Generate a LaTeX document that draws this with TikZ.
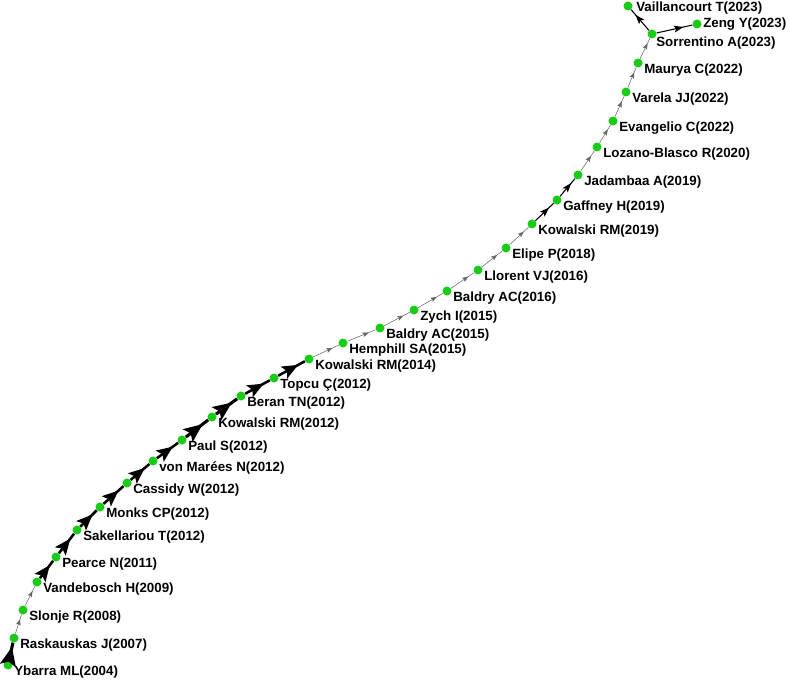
\documentclass[tikz,border=0pt]{standalone}
\usepackage{fontspec}
\setmainfont{Liberation Sans}
\usetikzlibrary{arrows.meta,decorations.markings}
\definecolor{citegreen}{RGB}{24,204,24}
\tikzset{
  dot/.style={circle, fill=citegreen, inner sep=0pt, minimum size=6.75pt},
  lbl/.style={font=\bfseries, anchor=west, inner sep=0pt},
  % line width, tip length, tip width
  cite/.style n args={3}{line width=#1, draw=black, postaction={decorate},
    decoration={markings, mark=at position 0.75 with
      {\arrow{Stealth[length=#2,width=#3,inset'=0pt 0.2]}}}},
  thick cite/.style={cite={1.9pt}{12pt}{10pt}},
  heavy cite/.style={cite={2.3pt}{14pt}{12pt}},
  mid cite/.style={cite={0.8pt}{7pt}{5pt}},
  thin cite/.style={cite={0.4pt}{4.5pt}{3.5pt}, draw=black!60},
}
% one paper: name, position, label
\newcommand\paper[3]{%
  \node[dot] (#1) at (#2) {};
  \node[lbl] (#1-l) at ([shift={(6,7)}]#1) {#3};}
\begin{document}
\begin{tikzpicture}[x=0.75pt,y=-0.75pt]
\useasboundingbox (0,0) rectangle (789,681);
\paper{ybarra}{8,665}{Ybarra ML(2004)}
\paper{raskauskas}{14,638}{Raskauskas J(2007)}
\paper{slonje}{23,610}{Slonje R(2008)}
\paper{vandebosch}{37,582}{Vandebosch H(2009)}
\paper{pearce}{56,557}{Pearce N(2011)}
\paper{sakellariou}{77,530}{Sakellariou T(2012)}
\paper{monks}{100,507}{Monks CP(2012)}
\paper{cassidy}{127,483}{Cassidy W(2012)}
\paper{vonmarees}{153,461}{von Marées N(2012)}
\paper{paul}{182,440}{Paul S(2012)}
\paper{kowalskiA}{212,417}{Kowalski RM(2012)}
\paper{beran}{241,396}{Beran TN(2012)}
\paper{topcu}{274,378}{Topcu Ç(2012)}
\paper{kowalskiB}{309,359}{Kowalski RM(2014)}
\paper{hemphill}{343,343}{Hemphill SA(2015)}
\paper{baldryA}{380,328}{Baldry AC(2015)}
\paper{zych}{414,310}{Zych I(2015)}
\paper{baldryB}{447,291}{Baldry AC(2016)}
\paper{llorent}{478,270}{Llorent VJ(2016)}
\paper{elipe}{506,248}{Elipe P(2018)}
\paper{kowalskiC}{532,224}{Kowalski RM(2019)}
\paper{gaffney}{557,200}{Gaffney H(2019)}
\paper{jadambaa}{578,175}{Jadambaa A(2019)}
\paper{lozano}{597,147}{Lozano-Blasco R(2020)}
\paper{evangelio}{613,121}{Evangelio C(2022)}
\paper{varela}{626,92}{Varela JJ(2022)}
\paper{maurya}{638,63}{Maurya C(2022)}
\node[dot] (sorrentino) at (652,34) {};
\node[lbl] (sorrentino-l) at ([shift={(4,9)}]sorrentino) {Sorrentino A(2023)};
\node[dot] (vaillancourt) at (628,6) {};
\node[lbl] (vaillancourt-l) at ([shift={(8,2)}]vaillancourt) {Vaillancourt T(2023)};
\node[dot] (zeng) at (697,24) {};
\node[lbl] (zeng-l) at ([shift={(6,0)}]zeng) {Zeng Y(2023)};
% citation path
\draw[heavy cite] (ybarra) -- (raskauskas);
\draw[thin cite] (raskauskas) -- (slonje);
\draw[thin cite] (slonje) -- (vandebosch);
\draw[thick cite] (vandebosch) -- (pearce);
\draw[thick cite] (pearce) -- (sakellariou);
\draw[thick cite] (sakellariou) -- (monks);
\draw[thick cite] (monks) -- (cassidy);
\draw[thick cite] (cassidy) -- (vonmarees);
\draw[thick cite] (vonmarees) -- (paul);
\draw[heavy cite] (paul) -- (kowalskiA);
\draw[heavy cite] (kowalskiA) -- (beran);
\draw[thick cite] (beran) -- (topcu);
\draw[thick cite] (topcu) -- (kowalskiB);
\draw[thin cite] (kowalskiB) -- (hemphill);
\draw[thin cite] (hemphill) -- (baldryA);
\draw[thin cite] (baldryA) -- (zych);
\draw[thin cite] (zych) -- (baldryB);
\draw[thin cite] (baldryB) -- (llorent);
\draw[thin cite] (llorent) -- (elipe);
\draw[thin cite] (elipe) -- (kowalskiC);
\draw[mid cite] (kowalskiC) -- (gaffney);
\draw[mid cite] (gaffney) -- (jadambaa);
\draw[thin cite] (jadambaa) -- (lozano);
\draw[thin cite] (lozano) -- (evangelio);
\draw[thin cite] (evangelio) -- (varela);
\draw[thin cite] (varela) -- (maurya);
\draw[thin cite] (maurya) -- (sorrentino);
\draw[mid cite] (sorrentino) -- (vaillancourt);
\draw[mid cite] (sorrentino) -- (zeng);
\end{tikzpicture}
\end{document}
